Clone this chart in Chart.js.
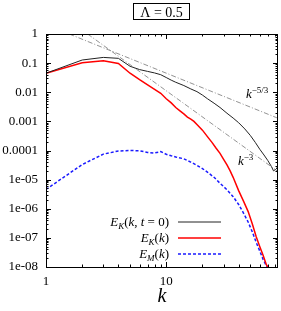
<!DOCTYPE html>
<html>
<head>
<meta charset="utf-8">
<script src="https://cdn.jsdelivr.net/npm/chart.js@4/dist/chart.umd.min.js"></script>
<style>
  html, body { margin: 0; padding: 0; background: #fff; }
  #wrap { width: 281px; height: 311px; }
</style>
</head>
<body>
<div id="wrap"><canvas id="chart" width="281" height="311"></canvas></div>
<script>
// ---- data ----
const kInit = [1, 2, 3, 4, 5, 6, 7, 8, 9, 10, 11, 12, 14, 16, 18, 20, 22, 25, 28, 32, 36, 40, 45, 50, 55, 60, 65, 70, 75, 78, 82, 85];
const eInit = [0.045, 0.128, 0.157, 0.146, 0.078, 0.060, 0.052, 0.046, 0.040, 0.032, 0.026, 0.022, 0.017, 0.013, 0.0105, 0.0080, 0.0060, 0.0042, 0.0030, 0.0019, 0.0013, 0.0009, 0.00055, 0.00033, 0.00019, 0.00011, 0.00007, 0.000045, 0.000028, 0.000020, 0.000023, 0.000029];

const kKin = [1, 2, 3, 4, 5, 6, 7, 8, 9, 10, 11, 12, 13, 14, 15, 16, 17, 18, 20, 22, 24, 26, 28, 30, 32, 34, 36, 40, 44, 48, 52, 56, 60, 64, 68, 70];
const eKin = [0.045, 0.103, 0.121, 0.097, 0.045, 0.027, 0.018, 0.0125, 0.0092, 0.0060, 0.0043, 0.0030, 0.0023, 0.0018, 0.0014, 0.0012, 0.0010, 0.00078, 0.00050, 0.00030, 0.00019, 0.00012, 0.00008, 0.00005, 0.000032, 0.000020, 0.000012, 4.2e-6, 1.8e-6, 8e-7, 3e-7, 1.1e-7, 5e-8, 2.5e-8, 1.2e-8, 1e-8];

const kMag = [1, 2, 3, 4, 5, 6, 7, 8, 9, 10, 11, 12, 14, 16, 18, 20, 22, 25, 28, 32, 36, 40, 44, 48, 52, 56, 60, 64, 68, 70];
const eMag = [4.6e-6, 3.3e-5, 7.5e-5, 9.6e-5, 1.0e-4, 9.8e-5, 8.6e-5, 8.2e-5, 9.2e-5, 7.4e-5, 6.6e-5, 6.0e-5, 5.2e-5, 4.0e-5, 3.1e-5, 2.4e-5, 1.8e-5, 1.2e-5, 7.5e-6, 4.5e-6, 2.6e-6, 1.4e-6, 7e-7, 3.5e-7, 1.6e-7, 7e-8, 3.5e-8, 1.8e-8, 1.1e-8, 9e-9];

// reference power laws (end points)
const kRef53 = [1.56, 85];
const eRef53 = [1, 0.00128];
const kRef3 = [2.22, 85];
const eRef3 = [1, 1.9e-5];

const xTickVals = [1, 10];
const xTickLabels = ["1", "10"];
const yTickVals = [1e-8, 1e-7, 1e-6, 1e-5, 1e-4, 1e-3, 1e-2, 1e-1, 1];
const yTickLabels = ["1e-08", "1e-07", "1e-06", "1e-05", "0.0001", "0.001", "0.01", "0.1", "1"];

const X_MIN = 1, X_MAX = 85, Y_MIN = 1e-8, Y_MAX = 1;
const SERIF = '"Liberation Serif", "Times New Roman", serif';

function pts(ks, es) {
  return ks.map((k, i) => ({ x: k, y: es[i] }));
}

// draw a run of text pieces (italic / sub / sup) starting at an anchor
function rich(ctx, segs, x, y, align, size) {
  const parts = segs.map(s => {
    const fs = (s.sub || s.sup) ? Math.round(size * 0.7) : size;
    const font = (s.it ? "italic " : "") + fs + "px " + SERIF;
    ctx.font = font;
    return { t: s.t, sub: s.sub, sup: s.sup, font, w: ctx.measureText(s.t).width };
  });
  const total = parts.reduce((a, p) => a + p.w, 0);
  let cx = align === "right" ? x - total : align === "center" ? x - total / 2 : x;
  ctx.textAlign = "left";
  ctx.textBaseline = "alphabetic";
  for (const p of parts) {
    ctx.font = p.font;
    const dy = p.sub ? size * 0.25 : p.sup ? -size * 0.42 : 0;
    ctx.fillText(p.t, cx, y + dy);
    cx += p.w;
  }
}

const decorations = {
  id: "decorations",
  afterDraw(chart) {
    const { ctx, chartArea: a, scales: { x, y } } = chart;
    ctx.save();

    // frame
    ctx.strokeStyle = "#000";
    ctx.lineWidth = 1;
    ctx.setLineDash([]);
    ctx.strokeRect(Math.round(a.left) + 0.5, Math.round(a.top) + 0.5,
      Math.round(a.right - a.left) - 1, Math.round(a.bottom - a.top));

    // inward ticks, mirrored
    ctx.beginPath();
    for (let d = 1; d <= 100; d *= 10) {
      for (let m = 1; m <= 9; m++) {
        const v = d * m;
        if (v < X_MIN || v > X_MAX) continue;
        const px = Math.round(x.getPixelForValue(v)) + 0.5;
        const len = m === 1 ? 5 : 2.5;
        ctx.moveTo(px, a.bottom); ctx.lineTo(px, a.bottom - len);
        ctx.moveTo(px, a.top); ctx.lineTo(px, a.top + len);
      }
    }
    for (let d = 1e-8; d <= 1.0001; d *= 10) {
      for (let m = 1; m <= 9; m++) {
        const v = d * m;
        if (v > Y_MAX * 1.0001) continue;
        const py = Math.round(y.getPixelForValue(v)) + 0.5;
        const len = m === 1 ? 5 : 2.5;
        ctx.moveTo(a.left, py); ctx.lineTo(a.left + len, py);
        ctx.moveTo(a.right, py); ctx.lineTo(a.right - len, py);
      }
    }
    ctx.stroke();

    // power-law labels
    ctx.fillStyle = "#000";
    rich(ctx, [{ t: "k", it: true }, { t: "\u22125/3", sup: true }], 246, 98, "left", 13);
    rich(ctx, [{ t: "k", it: true }, { t: "\u22123", sup: true }], 238, 165, "left", 13);

    // legend
    const rows = [
      { segs: [{ t: "E", it: true }, { t: "K", it: true, sub: true }, { t: "(" }, { t: "k", it: true }, { t: ", " }, { t: "t", it: true }, { t: " = 0)" }], color: "#222", w: 1, dash: [] },
      { segs: [{ t: "E", it: true }, { t: "K", it: true, sub: true }, { t: "(" }, { t: "k", it: true }, { t: ")" }], color: "#ff0000", w: 1.5, dash: [] },
      { segs: [{ t: "E", it: true }, { t: "M", it: true, sub: true }, { t: "(" }, { t: "k", it: true }, { t: ")" }], color: "#1a1aff", w: 1.5, dash: [3, 2] }
    ];
    rows.forEach((r, i) => {
      const base = 225.5 + i * 16;
      ctx.fillStyle = "#000";
      rich(ctx, r.segs, 169, base, "right", 13);
      ctx.strokeStyle = r.color;
      ctx.lineWidth = r.w;
      ctx.setLineDash(r.dash);
      ctx.beginPath();
      ctx.moveTo(178, base - 3.5);
      ctx.lineTo(221, base - 3.5);
      ctx.stroke();
    });

    // title box
    ctx.setLineDash([]);
    ctx.strokeStyle = "#000";
    ctx.lineWidth = 1;
    ctx.strokeRect(133.5, 3.5, 56, 16);
    ctx.fillStyle = "#000";
    rich(ctx, [{ t: "\u039B = 0.5" }], 161.5, 16.5, "center", 14);

    ctx.restore();
  }
};

const refStyle = { borderColor: "#777", borderWidth: 0.8, borderDash: [5, 2, 1, 2] };

new Chart(document.getElementById("chart"), {
  type: "scatter",
  data: {
    datasets: [
      Object.assign({ data: pts(kRef53, eRef53) }, refStyle),
      Object.assign({ data: pts(kRef3, eRef3) }, refStyle),
      { data: pts(kInit, eInit), borderColor: "#222", borderWidth: 1 },
      { data: pts(kKin, eKin), borderColor: "#ff0000", borderWidth: 1.5 },
      { data: pts(kMag, eMag), borderColor: "#1a1aff", borderWidth: 1.5, borderDash: [3, 2] }
    ].map(d => Object.assign({ showLine: true, pointRadius: 0, fill: false, tension: 0 }, d))
  },
  options: {
    responsive: false,
    animation: false,
    devicePixelRatio: 1,
    layout: { padding: { top: 34, right: 3, left: 0, bottom: 0 } },
    plugins: { legend: { display: false }, tooltip: { enabled: false } },
    scales: {
      x: {
        type: "logarithmic",
        min: X_MIN, max: X_MAX,
        grid: { display: false, drawTicks: false },
        border: { display: false },
        afterBuildTicks: s => { s.ticks = xTickVals.map(v => ({ value: v })); },
        afterFit: s => { s.height = 44; },
        ticks: {
          autoSkip: false, maxRotation: 0, padding: 7, color: "#000",
          font: { family: SERIF, size: 13 },
          callback: (v) => xTickLabels[xTickVals.indexOf(v)]
        },
        title: {
          display: true, text: "k", color: "#000",
          font: { family: SERIF, size: 20, style: "italic" },
          padding: { top: 0, bottom: 2 }
        }
      },
      y: {
        type: "logarithmic",
        min: Y_MIN, max: Y_MAX,
        grid: { display: false, drawTicks: false },
        border: { display: false },
        afterBuildTicks: s => { s.ticks = yTickVals.map(v => ({ value: v })); },
        afterFit: s => { s.width = 46; },
        ticks: {
          autoSkip: false, padding: 8, color: "#000",
          font: { family: SERIF, size: 13 },
          callback: (v, i) => yTickLabels[i]
        }
      }
    }
  },
  plugins: [decorations]
});
</script>
</body>
</html>
